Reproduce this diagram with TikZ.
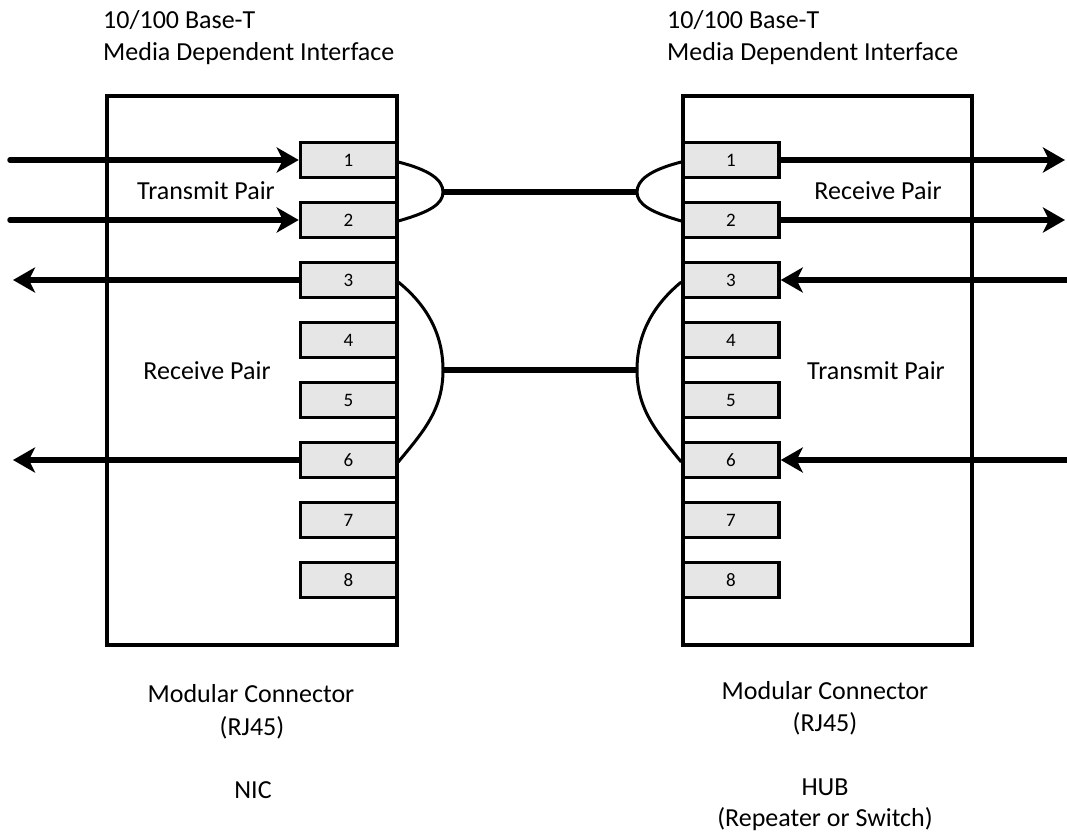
\documentclass[tikz,border=0pt]{standalone}
\usepackage{fontspec}
\setmainfont{Carlito}
\usetikzlibrary{arrows.meta}
\definecolor{pinfill}{HTML}{E6E6E6}
\tikzset{
  bigbox/.style={draw=black, line width=3.5pt, fill=none, inner sep=0pt},
  pin/.style={draw=black, line width=3.5pt, fill=pinfill, minimum width=96pt, minimum height=35pt, inner sep=0pt, font=\fontsize{19}{22}\selectfont},
  lbl/.style={inner sep=0pt, anchor=base, font=\fontsize{26}{32}\selectfont},
  lblw/.style={lbl, anchor=base west},
  sig/.style={line width=5.5pt, line cap=round, -{Stealth[length=22pt,width=25pt,inset=6pt]}},
  pair/.style={line width=3pt},
  link/.style={line width=5.5pt},
}
\begin{document}
\begin{tikzpicture}[x=1pt,y=-1pt]
\useasboundingbox (0,0) rectangle (1067,835);
% headers
\node[lblw] (lh1) at (103,28) {10/100 Base-T};
\node[lblw] (lh2) at (103,60) {Media Dependent Interface};
\node[lblw] (rh1) at (667,28) {10/100 Base-T};
\node[lblw] (rh2) at (667,60) {Media Dependent Interface};
% big boxes
\node[bigbox, minimum width=290pt, minimum height=549pt] (nic) at (252,370.5) {};
\node[bigbox, minimum width=289pt, minimum height=549pt] (hub) at (827.5,370.5) {};
% pins
\foreach \i in {1,...,8}{
  \node[pin] (L\i) at (348.5,{100+60*\i}) {\i};
  \node[pin] (R\i) at (731,{100+60*\i}) {\i};
}
% labels inside boxes
\node[lbl] (ltp) at (206,199) {Transmit Pair};
\node[lbl] (lrp) at (207,379) {Receive Pair};
\node[lbl] (rrp) at (878,199) {Receive Pair};
\node[lbl] (rtp) at (876,379) {Transmit Pair};
% bottom labels
\node[lbl] (lb1) at (251,702) {Modular Connector};
\node[lbl] (lb2) at (252,735) {(RJ45)};
\node[lbl] (lb3) at (253,798) {NIC};
\node[lbl] (rb1) at (825,699) {Modular Connector};
\node[lbl] (rb2) at (825,731) {(RJ45)};
\node[lbl] (rb3) at (825,795) {HUB};
\node[lbl] (rb4) at (825,826) {(Repeater or Switch)};
% arrow end coordinates
\coordinate (a1) at (10,160);
\coordinate (a2) at (10,220);
\coordinate (a3) at (13,280);
\coordinate (a6) at (13,460);
\coordinate (b1) at (1065,160);
\coordinate (b2) at (1065,220);
\coordinate (b3) at (1067,280);
\coordinate (b6) at (1067,460);
% signal arrows
\draw[sig] (a1) -- (L1.west);
\draw[sig] (a2) -- (L2.west);
\draw[sig] (L3.west) -- (a3);
\draw[sig] (L6.west) -- (a6);
\draw[sig] (R1.east) -- (b1);
\draw[sig] (R2.east) -- (b2);
\draw[sig] (b3) -- (R3.east);
\draw[sig] (b6) -- (R6.east);
% pair tips
\coordinate (tl1) at (443,192);
\coordinate (tl2) at (443,370);
\coordinate (tr1) at (637,192);
\coordinate (tr2) at (637,370);
% left pairs
\draw[pair] ([yshift=-2pt]L1.east) .. controls (430,170) and (443,180) .. (tl1)
  .. controls (443,204) and (430,212) .. ([yshift=-1pt]L2.east);
\draw[pair] ([yshift=-2pt]L3.east) .. controls (423,302) and (443,330) .. (tl2)
  .. controls (443,410) and (423,432) .. ([yshift=-2pt]L6.east);
% right pairs
\draw[pair] ([yshift=-2pt]R1.west) .. controls (650,170) and (637,180) .. (tr1)
  .. controls (637,204) and (650,212) .. ([yshift=-1pt]R2.west);
\draw[pair] ([yshift=-2pt]R3.west) .. controls (657,302) and (637,330) .. (tr2)
  .. controls (637,410) and (657,432) .. ([yshift=-2pt]R6.west);
% links
\draw[link] (tl1) -- (tr1);
\draw[link] (tl2) -- (tr2);
\end{tikzpicture}
\end{document}
